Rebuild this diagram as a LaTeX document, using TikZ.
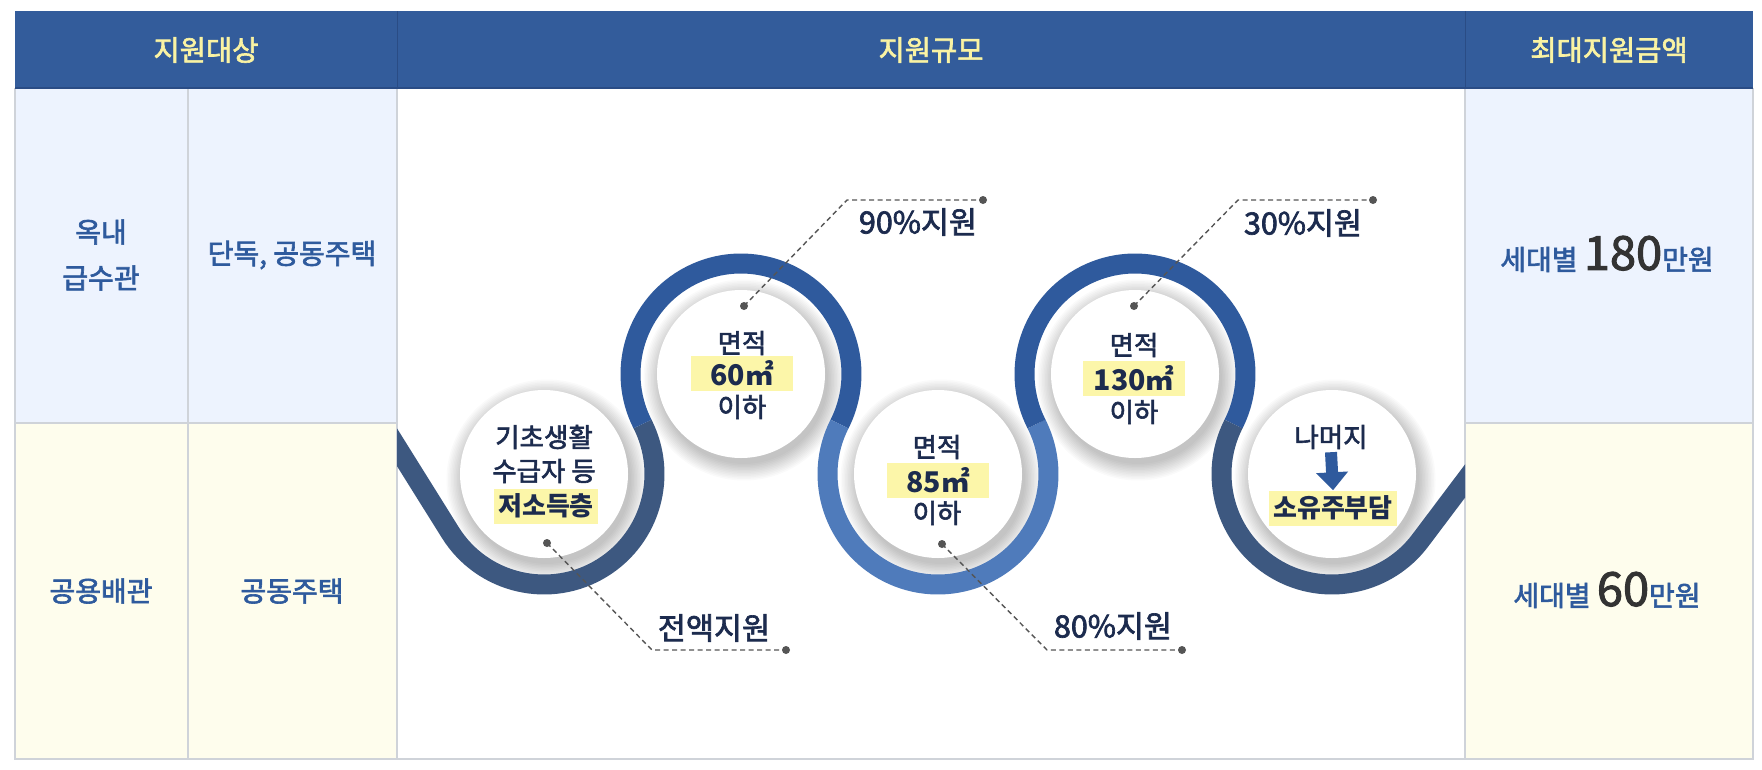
\documentclass[tikz,border=0pt]{standalone}
\usepackage{fontspec}
\usetikzlibrary{arrows.meta}
\setmainfont{Noto Sans CJK KR}
\newfontfamily\krm{Noto Sans CJK KR}[FakeBold=2.2]
\newfontfamily\krr{Noto Sans CJK KR}
\definecolor{hdr}{HTML}{335C9B}
\definecolor{hdrline}{HTML}{2A4C85}
\definecolor{hdrtext}{HTML}{FAF3A3}
\definecolor{cellblue}{HTML}{EDF3FE}
\definecolor{cellyel}{HTML}{FEFDED}
\definecolor{gridc}{HTML}{CFD3D9}
\definecolor{bodyblue}{HTML}{2E5A9D}
\definecolor{navy}{HTML}{1C2B4E}
\definecolor{hl}{HTML}{FCF6A9}
\definecolor{ringdark}{HTML}{3D5880}
\definecolor{ringblue}{HTML}{2F5A9D}
\definecolor{ringlight}{HTML}{4F7BBB}
\definecolor{numgray}{HTML}{333333}
\definecolor{leader}{HTML}{555555}
\newcommand\hfont{\krm\fontsize{28.5}{30}\selectfont}
\newcommand\bfnt{\krm\fontsize{28}{46}\selectfont}
\newcommand\cfont{\krm\fontsize{26.5}{28}\selectfont}
\newcommand\cbfont{\krr\bfseries\fontsize{26}{28}\selectfont}
\newcommand\numfont{\krr\bfseries\fontsize{28.5}{28}\selectfont}
\newcommand\pfont{\krm\fontsize{30.5}{30}\selectfont}
\newcommand\bigfont{\krm\fontsize{47}{46}\selectfont}
\newcommand\wcirc[1]{%
  \foreach \k in {0,...,11} {\fill[black,opacity=0.018] ([shift={(3,6)}]#1) circle ({84+\k*1.5});}
}
\begin{document}
\begin{tikzpicture}[x=1pt,y=-1pt,
  hdrtxt/.style={text=hdrtext,font=\hfont,inner sep=0pt},
  bodytxt/.style={text=bodyblue,font=\bfnt,inner sep=0pt,align=center},
  circtxt/.style={text=navy,font=\cfont,inner sep=0pt},
  hltxt/.style={text=navy,fill=hl,font=\cbfont,inner xsep=4pt,inner ysep=0pt,minimum height=35pt},
  hlnum/.style={hltxt,font=\numfont,minimum width=102pt},
  pct/.style={text=navy,font=\pfont,inner sep=0pt},
  lead/.style={draw=leader,line width=1.4pt,dash pattern=on 5pt off 3.5pt},
  ring/.style={line width=20pt},
  wdisk/.style={fill=white}]
\useasboundingbox[fill=white] (0,0) rectangle (1762,769);
% ---------- table ----------
\fill[cellblue] (15,88) rectangle (397,423);
\fill[cellyel] (15,423) rectangle (397,759);
\fill[cellblue] (1465,88) rectangle (1753,423);
\fill[cellyel] (1465,423) rectangle (1753,759);
\fill[white] (397,88) rectangle (1465,759);
\begin{scope}[draw=gridc,line width=1.5pt]
\draw (15,88) -- (15,759) -- (1753,759) -- (1753,88);
\draw (188,88) -- (188,759);
\draw (397,88) -- (397,759);
\draw (1465,88) -- (1465,759);
\draw (15,423) -- (397,423);
\draw (1465,423) -- (1753,423);
\end{scope}
\fill[hdr] (15,11) rectangle (1753,88);
\draw[hdrline,line width=1.2pt] (15,88) -- (1753,88);
\draw[hdrline,line width=1pt] (397,11) -- (397,88);
\draw[hdrline,line width=1pt] (1465,11) -- (1465,88);
\node[hdrtxt] (h1) at (206,50) {지원대상};
\node[hdrtxt] (h2) at (931,50) {지원규모};
\node[hdrtxt] (h3) at (1609,50) {최대지원금액};
\node[bodytxt] (r1a) at (101,255) {옥내\\급수관};
\node[bodytxt] (r1b) at (292,255) {단독, 공동주택};
\node[bodytxt] (r2a) at (101,591) {공용배관};
\node[bodytxt] (r2b) at (292,591) {공동주택};
\node[bodytxt] (r1c) at (1607,254) {세대별 {\color{numgray}\bigfont 180}만원};
\node[bodytxt] (r2c) at (1607,590) {세대별 {\color{numgray}\bigfont 60}만원};
% ---------- circles ----------
\coordinate (c1) at (544,474);
\coordinate (c2) at (741,374);
\coordinate (c3) at (938,474);
\coordinate (c4) at (1135,374);
\coordinate (c5) at (1332,474);
\wcirc{c1}\wcirc{c2}\wcirc{c3}\wcirc{c4}\wcirc{c5}
\begin{scope}
\clip (397,88) rectangle (1465,759);
\draw[ring,ringdark] (376.1,413.8) -- (450.32,532.54) arc[start angle=148,end angle=-26.917,radius=110.47];
\draw[ring,ringblue] (642.5,424) arc[start angle=153.083,end angle=386.917,radius=110.47];
\draw[ring,ringlight] (839.5,424) arc[start angle=206.917,end angle=-26.917,radius=110.47];
\draw[ring,ringblue] (1036.5,424) arc[start angle=153.083,end angle=386.917,radius=110.47];
\draw[ring,ringdark] (1233.5,424) arc[start angle=206.917,end angle=37,radius=110.47] -- (1492.45,444.64);
\end{scope}
\foreach \c in {c1,c2,c3,c4,c5} {\fill[wdisk] (\c) circle (84);}
% circle texts
\node[circtxt] (c1a) at (544,437) {기초생활};
\node[circtxt] (c1b) at (544,471) {수급자 등};
\node[hltxt] (c1c) at (546,506) {저소득층};
\node[circtxt] (c2a) at (742,343) {면적};
\node[hlnum] (c2b) at (742,373) {60㎡};
\node[circtxt] (c2c) at (742,407) {이하};
\node[circtxt] (c3a) at (937,447) {면적};
\node[hlnum] (c3b) at (938,480) {85㎡};
\node[circtxt] (c3c) at (937,513) {이하};
\node[circtxt] (c4a) at (1134,345) {면적};
\node[hlnum] (c4b) at (1134,378) {130㎡};
\node[circtxt] (c4c) at (1134,412) {이하};
\node[circtxt] (c5a) at (1331,437) {나머지};
\node[hltxt] (c5c) at (1333,508) {소유주부담};
\draw[ringblue,line width=12pt,-{Triangle[width=31pt,length=18pt]}] ([yshift=-3pt]c5a.south) -- (c5c.north);
% ---------- leaders ----------
\coordinate (d1) at (547,543); \coordinate (b1) at (652,650); \coordinate (e1) at (786,650);
\coordinate (d2) at (744,306); \coordinate (b2) at (847,200); \coordinate (e2) at (983,200);
\coordinate (d3) at (942,544); \coordinate (b3) at (1047,650); \coordinate (e3) at (1182,650);
\coordinate (d4) at (1134,306); \coordinate (b4) at (1238,200); \coordinate (e4) at (1373,200);
\foreach \i in {1,2,3,4} {
  \draw[lead] (d\i) -- (b\i) -- (e\i);
  \fill[leader] (d\i) circle (4);
  \fill[leader] (e\i) circle (4);
}
\node[pct] (p1) at (714,628) {전액지원};
\node[pct] (p2) at (918,222) {90\%지원};
\node[pct] (p3) at (1113,626) {80\%지원};
\node[pct] (p4) at (1303,223) {30\%지원};
\end{tikzpicture}
\end{document}
